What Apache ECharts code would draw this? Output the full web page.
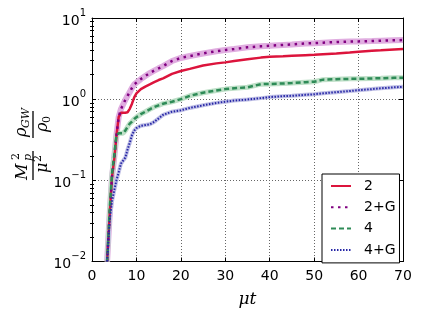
<!DOCTYPE html>
<html><head><meta charset="utf-8">
<script src="https://cdn.jsdelivr.net/npm/echarts@6/dist/echarts.min.js"></script>
<style>html,body{margin:0;padding:0;background:#fff}#c{width:421px;height:316px}</style>
</head><body><div id="c"></div>
<script>
// ---- data ----
const muT = [3.4, 4, 4.5, 5, 5.5, 6, 6.5, 7, 7.5, 8, 8.5, 9, 9.5, 10, 11, 12, 13, 14, 15, 16, 18, 20, 22, 25, 28, 30, 32, 35, 38, 40, 43, 45, 48, 50, 52, 55, 58, 60, 63, 65, 68, 70];
const seriesNames = ['2', '2+G', '4', '4+G'];
const val2  = [0.01, 0.04, 0.11, 0.18, 0.35, 0.6, 0.68, 0.68, 0.68, 0.69, 0.76, 0.88, 1.05, 1.18, 1.33, 1.43, 1.52, 1.62, 1.72, 1.8, 2.05, 2.22, 2.36, 2.6, 2.76, 2.84, 2.95, 3.1, 3.25, 3.33, 3.38, 3.42, 3.48, 3.52, 3.58, 3.66, 3.76, 3.84, 3.94, 4.0, 4.1, 4.14];
const val2G = [0.01, 0.04, 0.11, 0.19, 0.36, 0.6, 0.75, 0.86, 0.98, 1.1, 1.22, 1.38, 1.52, 1.6, 1.77, 1.93, 2.1, 2.25, 2.4, 2.55, 2.95, 3.22, 3.4, 3.66, 3.9, 4.03, 4.15, 4.35, 4.48, 4.55, 4.66, 4.73, 4.85, 4.9, 4.97, 5.05, 5.12, 5.15, 5.2, 5.25, 5.32, 5.35];
const val4  = [0.01, 0.045, 0.12, 0.2, 0.36, 0.38, 0.38, 0.38, 0.41, 0.455, 0.5, 0.53, 0.57, 0.6, 0.655, 0.7, 0.75, 0.8, 0.84, 0.88, 0.93, 1.0, 1.1, 1.2, 1.28, 1.33, 1.36, 1.4, 1.53, 1.54, 1.56, 1.58, 1.62, 1.64, 1.74, 1.76, 1.78, 1.78, 1.8, 1.81, 1.83, 1.83];
const val4G = [0.01, 0.033, 0.055, 0.075, 0.1, 0.125, 0.16, 0.175, 0.19, 0.24, 0.29, 0.36, 0.41, 0.44, 0.47, 0.48, 0.49, 0.525, 0.58, 0.64, 0.7, 0.73, 0.78, 0.84, 0.9, 0.93, 0.96, 0.99, 1.03, 1.06, 1.09, 1.1, 1.13, 1.15, 1.18, 1.22, 1.26, 1.29, 1.33, 1.36, 1.4, 1.42];
const xTicks = [0, 10, 20, 30, 40, 50, 60, 70];
const yMajorTicks = [0.01, 0.1, 1, 10];
const yMinorTicks = [0.02, 0.03, 0.04, 0.05, 0.06, 0.07, 0.08, 0.09, 0.2, 0.3, 0.4, 0.5, 0.6, 0.7, 0.8, 0.9, 2, 3, 4, 5, 6, 7, 8, 9];

const pairs = v => muT.map((t, i) => [t, v[i]]);
const FONT = '"DejaVu Sans", sans-serif';
const SERIF = '"DejaVu Serif", serif';

const chart = echarts.init(document.getElementById('c'), null, {renderer: 'canvas'});

const supFmt = v => {
  const e = Math.round(Math.log10(v));
  return '{b|10}{s|' + (e < 0 ? '\u2212' + (-e) : e) + '}';
};

function yAxisBase(pos, extra) {
  return Object.assign({
    type: 'log', logBase: 10, min: 0.01, max: 10, position: pos,
    axisLine: {show: true, onZero: false, lineStyle: {color: '#000', width: 1}},
    axisTick: {show: true, inside: true, length: 4, lineStyle: {color: '#000'}, customValues: yMajorTicks},
    axisLabel: {show: false},
    splitLine: {show: false}
  }, extra);
}

const option = {
  animation: false,
  backgroundColor: '#fff',
  grid: {left: 92, right: 18, top: 18, bottom: 54.5, containLabel: false},
  xAxis: [{
    type: 'value', min: 0, max: 70, interval: 10, position: 'bottom',
    name: '\u03bct', nameLocation: 'middle', nameGap: 30,
    nameTextStyle: {fontFamily: SERIF, fontStyle: 'italic', fontSize: 17, color: '#000'},
    axisLine: {show: true, onZero: false, lineStyle: {color: '#000', width: 1}},
    axisTick: {show: true, inside: true, length: 4, lineStyle: {color: '#000'}},
    axisLabel: {show: true, fontFamily: FONT, fontSize: 14, color: '#000', margin: 8, customValues: xTicks},
    splitLine: {show: true, lineStyle: {color: '#666', type: [1, 2], width: 1}}
  }, {
    type: 'value', min: 0, max: 70, interval: 10, position: 'top',
    axisLine: {show: true, onZero: false, lineStyle: {color: '#000', width: 1}},
    axisTick: {show: true, inside: true, length: 4, lineStyle: {color: '#000'}},
    axisLabel: {show: false}, splitLine: {show: false}
  }],
  yAxis: [
    yAxisBase('left', {
      axisLabel: {show: true, formatter: supFmt, margin: 6, customValues: yMajorTicks,
        rich: {b: {fontFamily: FONT, fontSize: 14, color: '#000', lineHeight: 20, verticalAlign: 'bottom'},
               s: {fontFamily: FONT, fontSize: 10, color: '#000', lineHeight: 12, verticalAlign: 'top'}}},
      splitLine: {show: true, lineStyle: {color: '#666', type: [1, 2], width: 1}}
    }),
    yAxisBase('right', {}),
    yAxisBase('left', {axisLine: {show: false}, axisTick: {show: true, inside: true, length: 2, lineStyle: {color: '#000'}, customValues: yMinorTicks}}),
    yAxisBase('right', {axisLine: {show: false}, axisTick: {show: true, inside: true, length: 2, lineStyle: {color: '#000'}, customValues: yMinorTicks}})
  ],
  legend: {
    data: seriesNames, orient: 'vertical', left: 322, top: 174,
    backgroundColor: '#fff', borderColor: '#000', borderWidth: 1, borderRadius: 0,
    padding: [5, 4, 6, 8], itemWidth: 20, itemHeight: 12, itemGap: 7.3,
    itemStyle: {opacity: 0},
    textStyle: {fontFamily: FONT, fontSize: 14, color: '#000', padding: [0, 0, 0, 8]}
  },
  graphic: [{
    type: 'group', x: 33, y: 142, rotation: Math.PI / 2,
    children: [
      {type: 'text', x: -38, y: -2, style: {text: 'M', font: 'italic 16px ' + SERIF, fill: '#000', align: 'left', verticalAlign: 'bottom'}},
      {type: 'text', x: -18, y: -11, style: {text: '2', font: '11px ' + SERIF, fill: '#000', align: 'left', verticalAlign: 'bottom'}},
      {type: 'text', x: -19, y: 1, style: {text: 'p', font: 'italic 11px ' + SERIF, fill: '#000', align: 'left', verticalAlign: 'bottom'}},
      {type: 'line', shape: {x1: -38, y1: 0, x2: -9, y2: 0}, style: {stroke: '#000', lineWidth: 1.3}},
      {type: 'text', x: -31, y: 2, style: {text: '\u03bc', font: 'italic 16px ' + SERIF, fill: '#000', align: 'left', verticalAlign: 'top'}},
      {type: 'text', x: -20, y: 0, style: {text: '2', font: '11px ' + SERIF, fill: '#000', align: 'left', verticalAlign: 'top'}},
      {type: 'text', x: 5, y: -3, style: {text: '\u03c1', font: 'italic 16px ' + SERIF, fill: '#000', align: 'left', verticalAlign: 'bottom'}},
      {type: 'text', x: 14, y: -1, style: {text: 'GW', font: 'italic 11px ' + SERIF, fill: '#000', align: 'left', verticalAlign: 'bottom'}},
      {type: 'line', shape: {x1: 4, y1: 0, x2: 31, y2: 0}, style: {stroke: '#000', lineWidth: 1.3}},
      {type: 'text', x: 10, y: 2, style: {text: '\u03c1', font: 'italic 16px ' + SERIF, fill: '#000', align: 'left', verticalAlign: 'top'}},
      {type: 'text', x: 19, y: 9, style: {text: '0', font: '11px ' + SERIF, fill: '#000', align: 'left', verticalAlign: 'top'}}
    ]
  }],
  series: [
    {name: 'halo2G', type: 'line', data: pairs(val2G), symbol: 'none', silent: true, z: 1,
     lineStyle: {color: '#E0ADE0', width: 6}},
    {name: 'halo4', type: 'line', data: pairs(val4), symbol: 'none', silent: true, z: 1,
     lineStyle: {color: '#BFE0C8', width: 5}},
    {name: 'halo4G', type: 'line', data: pairs(val4G), symbol: 'none', silent: true, z: 1,
     lineStyle: {color: '#C0C0E6', width: 4}},
    {name: seriesNames[0], type: 'line', data: pairs(val2), symbol: 'none', z: 3,
     lineStyle: {color: '#DC143C', width: 2.5}, itemStyle: {color: '#DC143C'}},
    {name: seriesNames[1], type: 'line', data: pairs(val2G), symbol: 'none', z: 4,
     lineStyle: {color: '#800080', width: 2.5, type: [2.5, 4.5]}, itemStyle: {color: '#800080'}},
    {name: seriesNames[2], type: 'line', data: pairs(val4), symbol: 'none', z: 4,
     lineStyle: {color: '#2E8B57', width: 2.5, type: [5, 3]}, itemStyle: {color: '#2E8B57'}},
    {name: seriesNames[3], type: 'line', data: pairs(val4G), symbol: 'none', z: 4,
     lineStyle: {color: '#2626A6', width: 2, type: [1.5, 1.5]}, itemStyle: {color: '#2626A6'}}
  ]
};
chart.setOption(option);
</script></body></html>
